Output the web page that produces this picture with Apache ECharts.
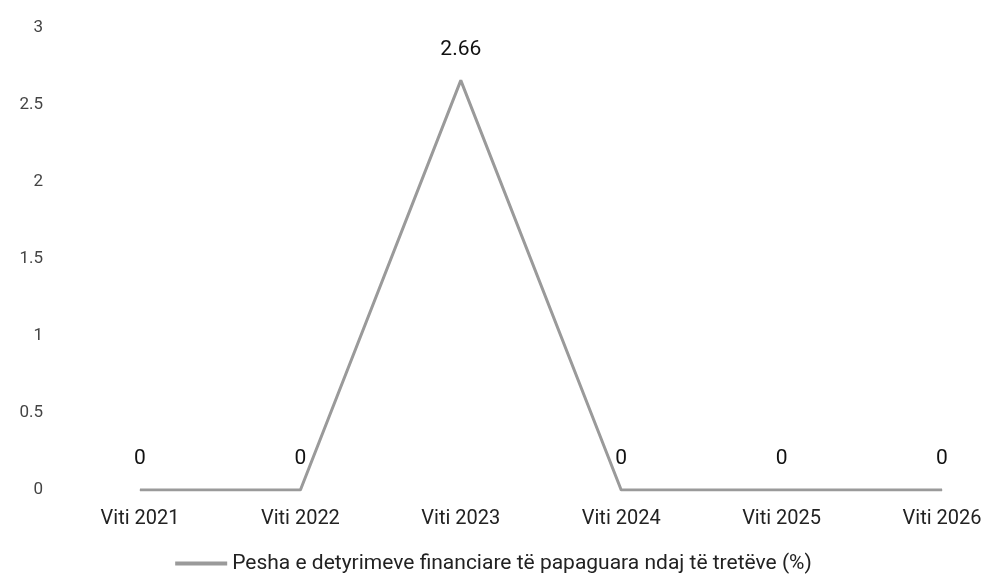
<!DOCTYPE html>
<html><head><meta charset="utf-8">
<script src="https://cdn.jsdelivr.net/npm/echarts@6/dist/echarts.min.js"></script>
<style>html,body{margin:0;padding:0;background:#fff}#c{width:987px;height:587px}</style>
</head><body><div id="c"></div>
<script>
const categories = ["Viti 2021","Viti 2022","Viti 2023","Viti 2024","Viti 2025","Viti 2026"];
const seriesName = "Pesha e detyrimeve financiare të papaguara ndaj të tretëve (%)";
const values = [0, 0, 2.66, 0, 0, 0];
const chart = echarts.init(document.getElementById('c'));
chart.setOption({
  animation:false,
  grid:{left:140,right:45,top:28,bottom:97},
  legend:{bottom:8,left:'center',itemWidth:52,itemHeight:4,icon:'rect',itemGap:4,
    textStyle:{fontSize:21,color:'#222',fontFamily:'Roboto'},data:[seriesName]},
  xAxis:{type:'category',data:categories,boundaryGap:false,
    axisLine:{show:false},axisTick:{show:false},
    axisLabel:{margin:19,fontSize:20,color:'#222',fontFamily:'Roboto'}},
  yAxis:{type:'value',min:0,max:3,interval:0.5,
    splitLine:{show:false},axisLine:{show:false},
    axisLabel:{margin:97,fontSize:17,color:'#444',fontFamily:'Roboto'}},
  series:[{name:seriesName,type:'line',data:values,symbol:'circle',symbolSize:1,
    lineStyle:{color:'#9a9a9a',width:3},itemStyle:{color:'#9a9a9a'},
    label:{show:true,position:'top',distance:20,fontSize:21,color:'#111',fontFamily:'Roboto'}}]
});
</script></body></html>
